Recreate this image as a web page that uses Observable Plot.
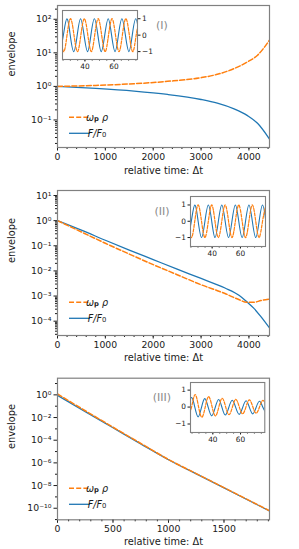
<!DOCTYPE html>
<html><head><meta charset="utf-8">
<script src="https://cdn.jsdelivr.net/npm/d3@7"></script>
<script src="https://cdn.jsdelivr.net/npm/@observablehq/plot@0.6"></script>
<style>
body{margin:0;background:#fff;}
#root{position:relative;width:299px;height:549px;overflow:hidden;background:#fff;font-family:"DejaVu Sans",sans-serif;}
</style></head><body><div id="root"></div>
<script>
// ---------- data ----------
// Panel I : envelopes (values stored as log10 exponents)
const p1Time   = [0, 800, 1600, 2300, 3000, 3340, 3690, 3970, 4180, 4430];
const p1RhoExp = [0.00, 0.03, 0.08, 0.15, 0.26, 0.36, 0.53, 0.73, 0.93, 1.38];
const p1FExp   = [0.00, -0.06, -0.14, -0.24, -0.39, -0.50, -0.67, -0.87, -1.10, -1.57];
// Panel II
const p2Time   = [0, 500, 1000, 1500, 2000, 2500, 3000, 3500, 3800, 3950, 4100, 4250, 4430];
const p2RhoExp = [0.00, -0.45, -0.90, -1.33, -1.75, -2.15, -2.55, -2.90, -3.15, -3.25, -3.25, -3.18, -3.12];
const p2FExp   = [0.00, -0.38, -0.78, -1.17, -1.55, -1.93, -2.30, -2.68, -2.98, -3.22, -3.48, -3.82, -4.27];
// Panel III
const p3Time   = [0, 250, 500, 750, 1000, 1250, 1500, 1750, 1910];
const p3RhoExp = [0.08, -1.40, -2.85, -4.28, -5.70, -6.95, -8.18, -9.43, -10.22];
const p3FExp   = [-0.05, -1.48, -2.90, -4.32, -5.72, -6.97, -8.20, -9.45, -10.24];

// Insets: oscillations (extrema and zero crossings)
const i1BlueT = [22.9, 25.2, 27.6, 29.9, 32.3, 34.7, 37.0, 39.4, 41.8, 44.1, 46.5, 48.9, 51.2, 53.6, 56.0, 58.3, 60.7, 63.0, 65.4, 67.8, 70.2, 72.5, 74.9, 77.3];
const i1BlueV = [-1, 0, 1, 0, -1, 0, 1, 0, -1, 0, 1, 0, -1, 0, 1, 0, -1, 0, 1, 0, -1, 0, 1, 0];
const i1OrT   = [20.6, 23.0, 25.4, 27.7, 30.1, 32.5, 34.9, 37.2, 39.6, 42.0, 44.4, 46.7, 49.1, 51.5, 53.9, 56.2, 58.6, 61.0, 63.4, 65.7, 68.1, 70.5, 72.9, 75.2, 77.6];
const i1OrV   = [1, 0, -1, 0, 1, 0, -1, 0, 1, 0, -1, 0, 1, 0, -1, 0, 1, 0, -1, 0, 1, 0, -1, 0, 1];

const i2BlueT = [22.9, 25.3, 27.7, 30.1, 32.5, 34.9, 37.3, 39.7, 42.0, 44.4, 46.8, 49.2, 51.6, 54.0, 56.4, 58.8, 61.2, 63.6, 66.0, 68.4, 70.8, 73.2, 75.6, 78.0];
const i2BlueV = [-1, 0, 1, 0, -1, 0, 1, 0, -1, 0, 1, 0, -1, 0, 1, 0, -1, 0, 1, 0, -1, 0, 1, 0];
const i2OrT   = [20.5, 22.9, 25.3, 27.7, 30.1, 32.5, 34.9, 37.3, 39.7, 42.0, 44.4, 46.8, 49.2, 51.6, 54.0, 56.4, 58.8, 61.2, 63.6, 66.0, 68.4, 70.8, 73.2, 75.6, 78.0];
const i2OrV   = [1, 0, -1, 0, 1, 0, -1, 0, 1, 0, -1, 0, 1, 0, -1, 0, 1, 0, -1, 0, 1, 0, -1, 0, 1];

const i3BlueT = [19.7, 22.2, 24.6, 27.0, 29.4, 31.8, 34.2, 36.7, 39.2, 41.7, 44.2, 46.6, 49.0, 51.5, 54.0, 56.5, 59.0, 61.5, 64.0, 66.4, 68.8, 71.2, 73.7, 76.2, 78.6];
const i3BlueV = [-0.60, -0.02, 0.56, 0.00, -0.58, -0.03, 0.50, -0.02, -0.52, -0.03, 0.45, -0.02, -0.47, -0.03, 0.40, -0.02, -0.43, -0.03, 0.37, -0.02, -0.40, -0.03, 0.34, -0.03, -0.38];
const i3OrT   = [22.3, 24.8, 27.2, 29.6, 32.1, 34.6, 37.0, 39.4, 41.9, 44.4, 46.8, 49.2, 51.7, 54.2, 56.6, 59.0, 61.5, 64.0, 66.4, 68.8, 71.3, 73.8, 76.2, 78.6];
const i3OrV   = [-0.62, 0.05, 0.74, 0.06, -0.60, 0.03, 0.62, 0.04, -0.52, 0.02, 0.52, 0.03, -0.45, 0.02, 0.46, 0.03, -0.40, 0.03, 0.42, 0.03, -0.36, 0.03, 0.40, 0.03];

// tick labels
const p1XTicks = [0, 1000, 2000, 3000, 4000];
const p3XTicks = [0, 500, 1000, 1500];
const insetXTicks = [40, 60];
const insetYTicks = [-1, 0, 1];
const panelNames = ["(I)", "(II)", "(III)"];

// ---------- drawing ----------
const BLUE = "#1f77b4", ORANGE = "#ff7f0e", FRAME = "#808080";
const root = document.getElementById("root");
const SUP = {"-":"\u207B","0":"\u2070","1":"\u00B9","2":"\u00B2","3":"\u00B3","4":"\u2074","5":"\u2075","6":"\u2076","7":"\u2077","8":"\u2078","9":"\u2079"};
const powFmt = d => "10" + String(Math.round(Math.log10(d))).split("").map(c => SUP[c]).join("");
const intFmt = d => d < 0 ? "\u2212" + (-d) : String(d);

function place(node, left, top) {
  node.style.position = "absolute";
  node.style.left = left + "px";
  node.style.top = top + "px";
  node.style.background = "transparent";
  node.style.overflow = "visible";
  root.appendChild(node);
}

function logTicks(lo, hi, step, minorAll) {
  const major = [], minor = [];
  for (let e = Math.floor(lo) - 1; e <= Math.ceil(hi) + 1; e++) {
    const v = Math.pow(10, e);
    if (e >= lo - 1e-9 && e <= hi + 1e-9) {
      if (((e % step) + step) % step === 0) major.push(v); else minor.push(v);
    }
    if (minorAll) for (let k = 2; k <= 9; k++) {
      const le = e + Math.log10(k);
      if (le >= lo && le <= hi) minor.push(k * v);
    }
  }
  return {major, minor};
}

function mainPanel(o) {
  const rows = o.t.map((x, i) => ({t: x, rho: Math.pow(10, o.rho[i]), f: Math.pow(10, o.f[i])}));
  const yt = logTicks(o.yExp[0], o.yExp[1], o.yStep, o.minorAll);
  const svg = Plot.plot({
    width: 299, height: o.height,
    marginTop: o.mt, marginBottom: o.mb, marginLeft: 57, marginRight: 30,
    style: {fontFamily: "'DejaVu Sans', sans-serif", fontSize: "9.3px", color: "#1a1a1a", background: "transparent"},
    x: {domain: o.xDomain},
    y: {type: "log", domain: [Math.pow(10, o.yExp[0]), Math.pow(10, o.yExp[1])]},
    marks: [
      Plot.axisX({ticks: o.xMinor, tickSize: 2, tickFormat: () => "", label: null}),
      Plot.axisX({ticks: o.xTicks, tickSize: 3.5, tickPadding: 2, tickFormat: d => String(d), label: null}),
      Plot.axisY({ticks: yt.minor, tickSize: 2, tickFormat: () => "", label: null}),
      Plot.axisY({ticks: yt.major, tickSize: 3.5, tickPadding: 2.5, tickFormat: powFmt, label: null}),
      Plot.line(rows, {x: "t", y: "f", stroke: BLUE, strokeWidth: 1.3, curve: "monotone-x", clip: true}),
      Plot.line(rows, {x: "t", y: "rho", stroke: ORANGE, strokeWidth: 1.5, strokeDasharray: "5,2.2", curve: "monotone-x", clip: true}),
      Plot.frame({stroke: FRAME, strokeWidth: 1.2}),
      Plot.text(["relative time: \u0394t"], {frameAnchor: "bottom", dy: o.xlab, lineAnchor: "middle", fontSize: 9.8}),
      Plot.text(["envelope"], {frameAnchor: "left", dx: -46, rotate: -90, lineAnchor: "middle", fontSize: 9.8})
    ]
  });
  place(svg, 0, o.top);
  const s = d3.select(svg);
  // panel name
  s.append("text").attr("x", 162).attr("y", o.nameY - o.top).attr("text-anchor", "middle")
    .attr("dominant-baseline", "central").attr("fill", "#8a8a8a").attr("font-size", 11).text(o.name);
  // legend
  const lg = s.append("g").attr("font-size", 9.6).attr("fill", "#1a1a1a");
  const yo = o.legY - o.top, yb = yo + 16;
  lg.append("line").attr("x1", 69).attr("x2", 90).attr("y1", yo).attr("y2", yo)
    .attr("stroke", ORANGE).attr("stroke-width", 1.5).attr("stroke-dasharray", "5,2.2");
  lg.append("line").attr("x1", 69).attr("x2", 90).attr("y1", yb).attr("y2", yb)
    .attr("stroke", BLUE).attr("stroke-width", 1.3);
  const t1 = lg.append("text").attr("x", 97).attr("y", yo).attr("dominant-baseline", "central");
  t1.append("tspan").attr("font-style", "italic").text("\u03C9");
  t1.append("tspan").attr("font-weight", "bold").attr("font-size", 6.8).attr("dy", 2).text("p");
  t1.append("tspan").attr("font-style", "italic").attr("dy", -2).text(" \u03C1");
  const t2 = lg.append("text").attr("x", 97).attr("y", yb).attr("dominant-baseline", "central");
  t2.append("tspan").attr("font-style", "italic").text("F/F");
  t2.append("tspan").attr("font-size", 6.8).attr("dy", 2).text("0");
}

function inset(o) {
  const blue = o.bt.map((x, i) => ({t: x, v: o.bv[i]}));
  const orange = o.ot.map((x, i) => ({t: x, v: o.ov[i]}));
  const right = o.side === "right";
  const svg = Plot.plot({
    width: o.width, height: o.height,
    marginTop: 1, marginBottom: 13,
    marginLeft: right ? 1 : 18, marginRight: right ? 18 : 1,
    style: {fontFamily: "'DejaVu Sans', sans-serif", fontSize: "7.4px", color: "#1a1a1a", background: "transparent"},
    x: {domain: o.xDomain},
    y: {domain: o.yDomain},
    marks: [
      Plot.frame({fill: "white", stroke: "none"}),
      Plot.axisX({ticks: d3.range(25, 80, 5), tickSize: 1.5, tickFormat: () => "", label: null}),
      Plot.axisX({ticks: insetXTicks, tickSize: 2.5, tickPadding: 1.5, tickFormat: intFmt, label: null}),
      Plot.axisY({ticks: insetYTicks, anchor: o.side, tickSize: 2.5, tickPadding: 2, tickFormat: intFmt, label: null}),
      Plot.line(blue, {x: "t", y: "v", stroke: BLUE, strokeWidth: 1.1, curve: "natural", clip: true}),
      Plot.line(orange, {x: "t", y: "v", stroke: ORANGE, strokeWidth: 1.2, strokeDasharray: "3,1.4", curve: "natural", clip: true}),
      Plot.frame({stroke: FRAME, strokeWidth: 1.1})
    ]
  });
  place(svg, o.left, o.top);
}

mainPanel({top: 0, height: 183, mt: 5, mb: 36, xDomain: [0, 4430], yExp: [-1.82, 2.41], yStep: 1, minorAll: true,
  xTicks: p1XTicks, xMinor: d3.range(200, 4430, 200), t: p1Time, rho: p1RhoExp, f: p1FExp,
  xlab: 23.5, name: panelNames[0], nameY: 25.7, legY: 117.3});
mainPanel({top: 183, height: 183, mt: 7, mb: 31, xDomain: [0, 4430], yExp: [-4.57, 1.2], yStep: 1, minorAll: true,
  xTicks: p1XTicks, xMinor: d3.range(200, 4430, 200), t: p2Time, rho: p2RhoExp, f: p2FExp,
  xlab: 22.5, name: panelNames[1], nameY: 211.7, legY: 302.3});
mainPanel({top: 366, height: 183, mt: 11.7, mb: 29.7, xDomain: [0, 1910], yExp: [-11.02, 1.47], yStep: 2, minorAll: false,
  xTicks: p3XTicks, xMinor: d3.range(100, 1910, 100), t: p3Time, rho: p3RhoExp, f: p3FExp,
  xlab: 22.4, name: panelNames[2], nameY: 397.7, legY: 488.3});

inset({left: 61, top: 9, width: 94, height: 63, side: "right", xDomain: [24.6, 76.1], yDomain: [-1.48, 1.5],
  bt: i1BlueT, bv: i1BlueV, ot: i1OrT, ov: i1OrV});
inset({left: 172, top: 194.7, width: 94, height: 64, side: "left", xDomain: [24.7, 77.7], yDomain: [-1.55, 1.52],
  bt: i2BlueT, bv: i2BlueV, ot: i2OrT, ov: i2OrV});
inset({left: 172, top: 381, width: 93.3, height: 64, side: "left", xDomain: [23.9, 77.5], yDomain: [-1.5, 1.45],
  bt: i3BlueT, bv: i3BlueV, ot: i3OrT, ov: i3OrV});
</script></body></html>
